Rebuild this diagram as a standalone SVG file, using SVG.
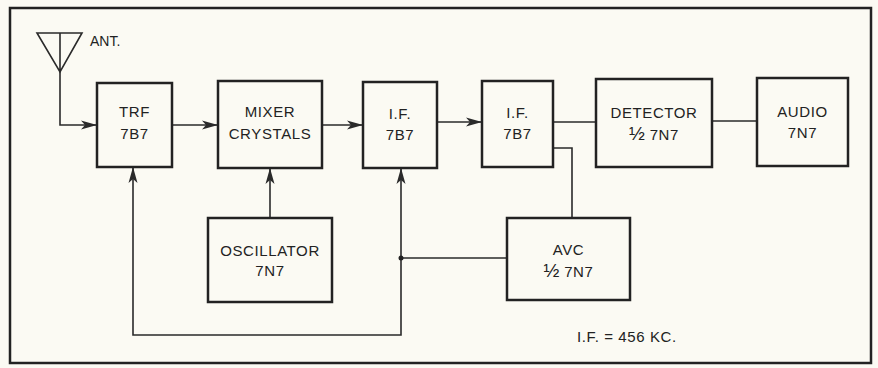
<svg xmlns="http://www.w3.org/2000/svg" width="878" height="368" viewBox="0 0 878 368">
<defs>
<style>
.box{fill:none;stroke:#222;stroke-width:2.5}
.ln{fill:none;stroke:#2a2a2a;stroke-width:1.6}
text{font-family:"Liberation Sans",Arial,sans-serif;font-size:15px;fill:#222;letter-spacing:0.6px;text-anchor:middle}
.h{font-size:19px;letter-spacing:0}
</style>
<marker id="ar" viewBox="0 0 16 10" refX="15" refY="5" markerWidth="16" markerHeight="10" markerUnits="userSpaceOnUse" orient="auto">
<path d="M0,0.5 L16,5 L0,9.5 L4,5 Z" fill="#2a2a2a"/>
</marker>
</defs>
<rect width="878" height="368" fill="#fbfaf3"/>
<rect x="10" y="8" width="861" height="355" fill="none" stroke="#222" stroke-width="2.5"/>

<g id="connectors">
<path class="ln" d="M60,72 V125 H96" marker-end="url(#ar)"/>
<path class="ln" d="M172,125 H217" marker-end="url(#ar)"/>
<path class="ln" d="M322,125 H362" marker-end="url(#ar)"/>
<path class="ln" d="M437,122 H481" marker-end="url(#ar)"/>
<path class="ln" d="M553,122 H596"/>
<path class="ln" d="M712,121 H757"/>
<path class="ln" d="M553,148 H572 V218"/>
<path class="ln" d="M270,218 V169" marker-end="url(#ar)"/>
<path class="ln" d="M507,258 H401"/>
<path class="ln" d="M401,258 V335 H133 V168" marker-end="url(#ar)"/>
<path class="ln" d="M401,258 V169" marker-end="url(#ar)"/>
<circle cx="401" cy="258" r="2.5" fill="#222"/>
</g>

<g id="antenna">
<path class="ln" d="M37,33 H82 L60,72 Z M60,33 V72"/>
<text x="90" y="46" style="text-anchor:start;font-size:14px;letter-spacing:0">ANT.</text>
</g>

<g id="trf">
<rect class="box" x="97" y="83" width="75" height="84"/>
<text x="134.5" y="117">TRF</text>
<text x="134.5" y="139">7B7</text>
</g>
<g id="mixer">
<rect class="box" x="218" y="81" width="104" height="87"/>
<text x="270" y="117">MIXER</text>
<text x="270" y="139">CRYSTALS</text>
</g>
<g id="if1">
<rect class="box" x="363" y="82" width="74" height="86"/>
<text x="400" y="119">I.F.</text>
<text x="400" y="140">7B7</text>
</g>
<g id="if2">
<rect class="box" x="482" y="81" width="71" height="86"/>
<text x="517.5" y="118">I.F.</text>
<text x="517.5" y="139">7B7</text>
</g>
<g id="detector">
<rect class="box" x="596" y="79" width="116" height="88"/>
<text x="654" y="118">DETECTOR</text>
<text x="654" y="140"><tspan class="h">½</tspan> 7N7</text>
</g>
<g id="audio">
<rect class="box" x="757" y="78" width="91" height="88"/>
<text x="802.5" y="117">AUDIO</text>
<text x="802.5" y="138">7N7</text>
</g>
<g id="oscillator">
<rect class="box" x="208" y="218" width="124" height="84"/>
<text x="270" y="256">OSCILLATOR</text>
<text x="270" y="276">7N7</text>
</g>
<g id="avc">
<rect class="box" x="507" y="218" width="123" height="82"/>
<text x="568.5" y="255">AVC</text>
<text x="568.5" y="277"><tspan class="h">½</tspan> 7N7</text>
</g>
<text x="577" y="342" style="text-anchor:start">I.F. = 456 KC.</text>
</svg>
